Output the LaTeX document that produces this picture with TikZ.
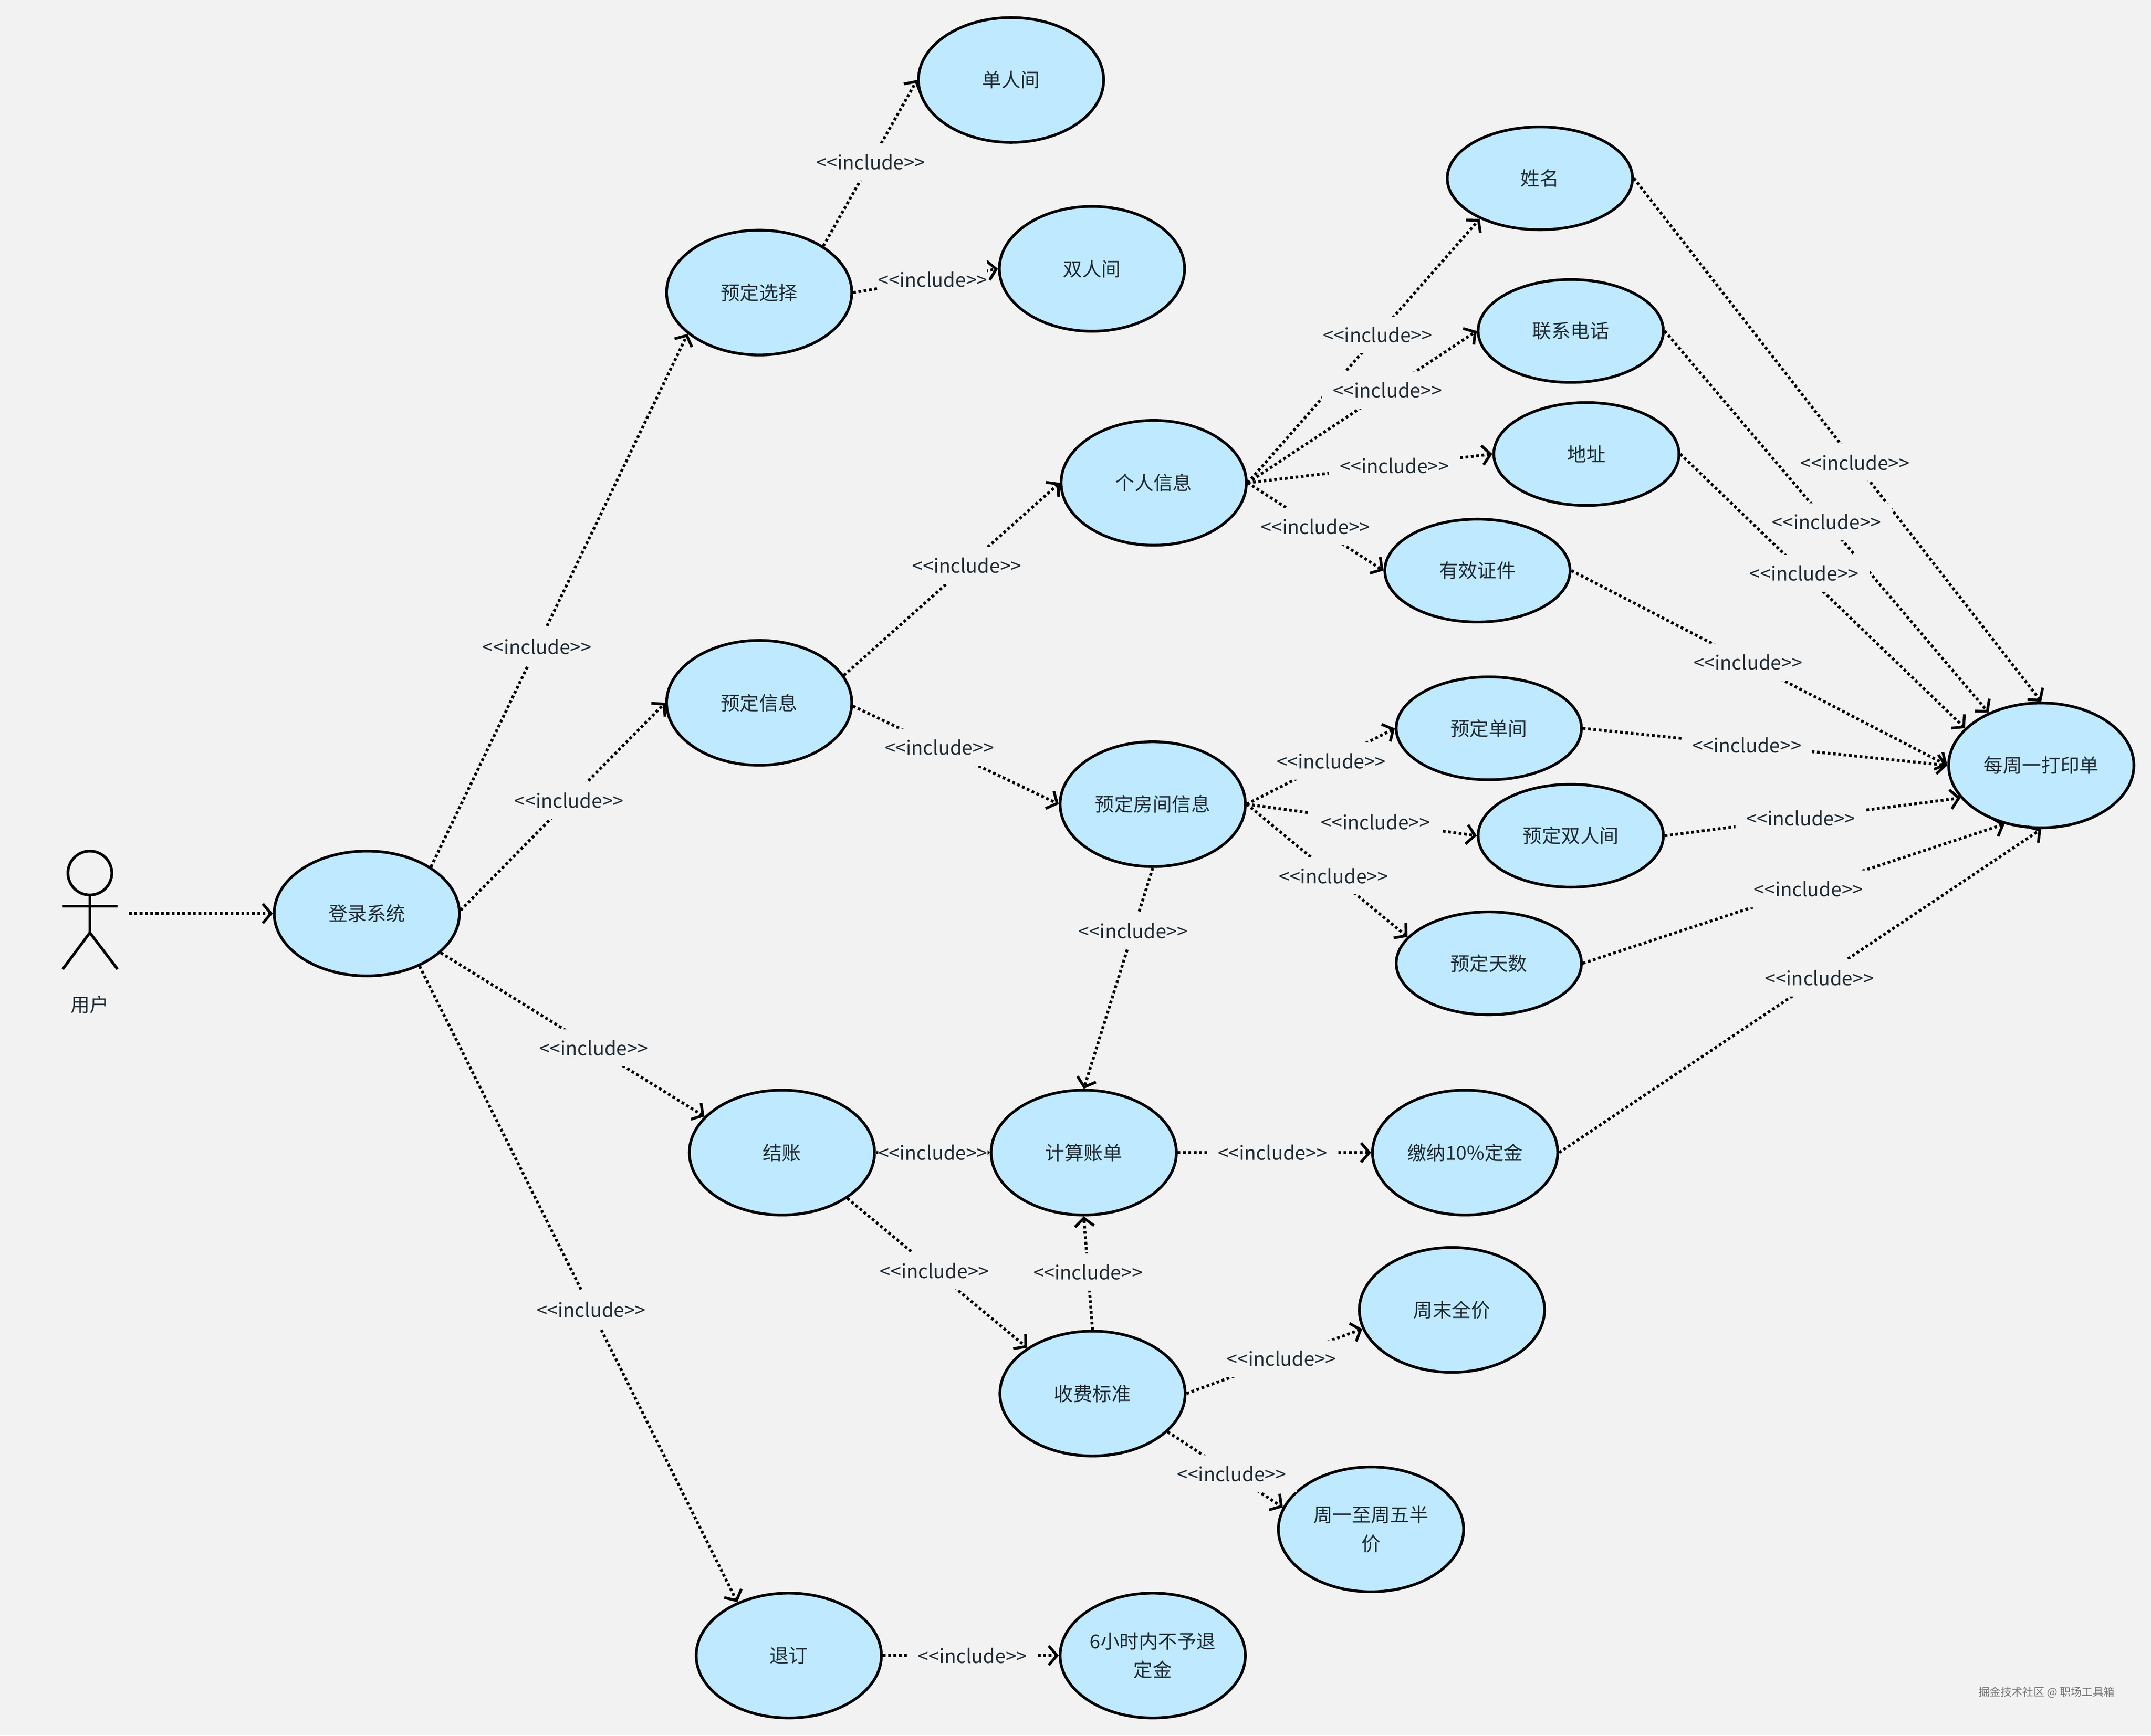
\documentclass[tikz,border=0pt]{standalone}
\usepackage{fontspec}
\setmainfont{Noto Sans CJK SC}
\usetikzlibrary{shapes.geometric,arrows.meta}
\definecolor{pagebg}{HTML}{F2F2F2}
\definecolor{casefill}{HTML}{BEE9FF}
\definecolor{casetext}{HTML}{1F2A33}
\newcommand{\incl}{<{}<include>{}>}
\tikzset{
  usecase/.style={ellipse, draw=black, line width=2pt, fill=casefill, text=casetext,
    minimum width=135pt, minimum height=91pt, inner sep=0pt, align=center,
    font=\fontsize{14}{21}\selectfont},
  smallcase/.style={usecase, minimum height=75pt},
  includeline/.style={line width=2.1pt, dash pattern=on 2pt off 1.9pt,
    -{Straight Barb[length=6pt,width=14pt,line width=2pt]}},
  includelabel/.style={fill=pagebg, text=casetext, inner xsep=8pt, inner ysep=0pt,
    minimum height=27pt, font=\fontsize{14}{21}\selectfont},
  tightlabel/.style={includelabel, inner xsep=0pt},
  actorline/.style={line width=2pt, draw=black}
}
\begin{document}
\begin{tikzpicture}[x=1pt,y=-1pt]
  % Page
  \path[use as bounding box, fill=pagebg] (0,0) rectangle (1568,1265.4);

  % Actor
  \node[circle, actorline, minimum size=32pt, inner sep=0pt] (head) at (65.5,636.5) {};
  \coordinate (armleft) at (45.7,660.7);
  \coordinate (armright) at (85.7,660.7);
  \coordinate (hip) at (65.5,680);
  \coordinate (footleft) at (45.7,706.6);
  \coordinate (footright) at (85.7,706.6);
  \coordinate (actorport) at (94,666);
  \draw[actorline] (head.south) -- (hip);
  \draw[actorline] (armleft) -- (armright);
  \draw[actorline] (footleft) -- (hip) -- (footright);
  \node[text=casetext, font=\fontsize{14}{21}\selectfont] (actorname) at (65.5,732.3) {用户};

  % Use cases
  \node[usecase] (login) at (267.4,666) {登录系统};
  \node[usecase] (choice) at (553.4,213.3) {预定选择};
  \node[usecase] (single) at (737,58.3) {单人间};
  \node[usecase] (double) at (796,196) {双人间};
  \node[usecase] (info) at (553.4,512.4) {预定信息};
  \node[usecase] (person) at (841,352) {个人信息};
  \node[smallcase] (name) at (1122.5,130) {姓名};
  \node[smallcase] (phone) at (1145,241.3) {联系电话};
  \node[smallcase] (addr) at (1156.4,331) {地址};
  \node[smallcase] (idcard) at (1077,416) {有效证件};
  \node[usecase] (room) at (840.3,586.3) {预定房间信息};
  \node[smallcase] (roomone) at (1085.3,531) {预定单间};
  \node[smallcase] (roomtwo) at (1145,609.3) {预定双人间};
  \node[smallcase] (days) at (1085.3,702.3) {预定天数};
  \node[usecase] (print) at (1488,558) {每周一打印单};
  \node[usecase] (checkout) at (570,840.3) {结账};
  \node[usecase] (bill) at (790,840.3) {计算账单};
  \node[usecase] (deposit) at (1068,840.3) {缴纳10\%定金};
  \node[usecase] (fee) at (796.4,1016) {收费标准};
  \node[usecase] (weekend) at (1058.4,955) {周末全价};
  \node[usecase] (weekday) at (999.4,1115) {周一至周五半\\价};
  \node[usecase] (cancel) at (575,1207) {退订};
  \node[usecase] (refund) at (840.3,1207) {6小时内不予退\\定金};

  % Connectors
  \draw[includeline] (actorport) -- (login.180);
  \draw[includeline] (login.36) -- node[includelabel,pos=.413] {\incl} (choice.210);
  \draw[includeline] (login.2) -- node[includelabel,pos=.53] {\incl} (info.180);
  \draw[includeline] (login.-28) -- node[includelabel,pos=.58] {\incl} (checkout.155);
  \draw[includeline] (login.-45) -- node[includelabel,pos=.54] {\incl} (cancel.134);
  \draw[includeline] (choice.36) -- node[includelabel,pos=.505] {\incl} (single.180);
  \draw[includeline] (choice.0) -- node[tightlabel,pos=.55] {\incl} (double.180);
  \draw[includeline] (info.18) -- node[includelabel,pos=.57] {\incl} (person.180);
  \draw[includeline] (info.-2) -- node[includelabel,pos=.42] {\incl} (room.180);
  \draw[includeline] (person.0) -- node[includelabel,pos=.56] {\incl} (name.214);
  \draw[includeline] (person.0) -- node[includelabel,pos=.61] {\incl} (phone.180);
  \draw[includeline] (person.0) -- node[includelabel,pos=.6] {\incl} (addr.180);
  \draw[includeline] (person.0) -- node[includelabel,pos=.5] {\incl} (idcard.180);
  \draw[includeline] (room.0) -- node[includelabel,pos=.57] {\incl} (roomone.180);
  \draw[includeline] (room.0) -- node[includelabel,pos=.56] {\incl} (roomtwo.180);
  \draw[includeline] (room.0) -- node[includelabel,pos=.54] {\incl} (days.162);
  \draw[includeline] (room.-90) -- node[includelabel,pos=.285] {\incl} (bill.90);
  \draw[includeline] (name.0) -- node[includelabel,pos=.543] {\incl} (print.90);
  \draw[includeline] (phone.0) -- node[includelabel,pos=.5] {\incl} (print.135);
  \draw[includeline] (addr.0) -- node[includelabel,pos=.435] {\incl} (print.154);
  \draw[includeline] (idcard.0) -- node[includelabel,pos=.47] {\incl} (print.180);
  \draw[includeline] (roomone.0) -- node[includelabel,pos=.45] {\incl} (print.180);
  \draw[includeline] (roomtwo.0) -- node[includelabel,pos=.46] {\incl} (print.202);
  \draw[includeline] (days.0) -- node[includelabel,pos=.535] {\incl} (print.238);
  \draw[includeline] (deposit.0) -- node[includelabel,pos=.54] {\incl} (print.-90);
  \draw[includeline] (checkout.0) -- node[tightlabel,pos=.5] {\incl} (bill.180);
  \draw[includeline] (bill.0) -- node[includelabel,pos=.49] {\incl} (deposit.180);
  \draw[includeline] (checkout.-35) -- node[includelabel,pos=.485] {\incl} (fee.145);
  \draw[includeline] (fee.90) -- node[includelabel,pos=.51] {\incl} (bill.-90);
  \draw[includeline] (fee.0) -- node[includelabel,pos=.54] {\incl} (weekend.192);
  \draw[includeline] (fee.-27) -- node[includelabel,pos=.555] {\incl} (weekday.166);
  \draw[includeline] (cancel.0) -- node[includelabel,pos=.51] {\incl} (refund.180);

  % Watermark
  \node[text=black!55, font=\fontsize{8}{10}\selectfont] (mark) at (1492,1233.7) {掘金技术社区 @ 职场工具箱};
\end{tikzpicture}
\end{document}
